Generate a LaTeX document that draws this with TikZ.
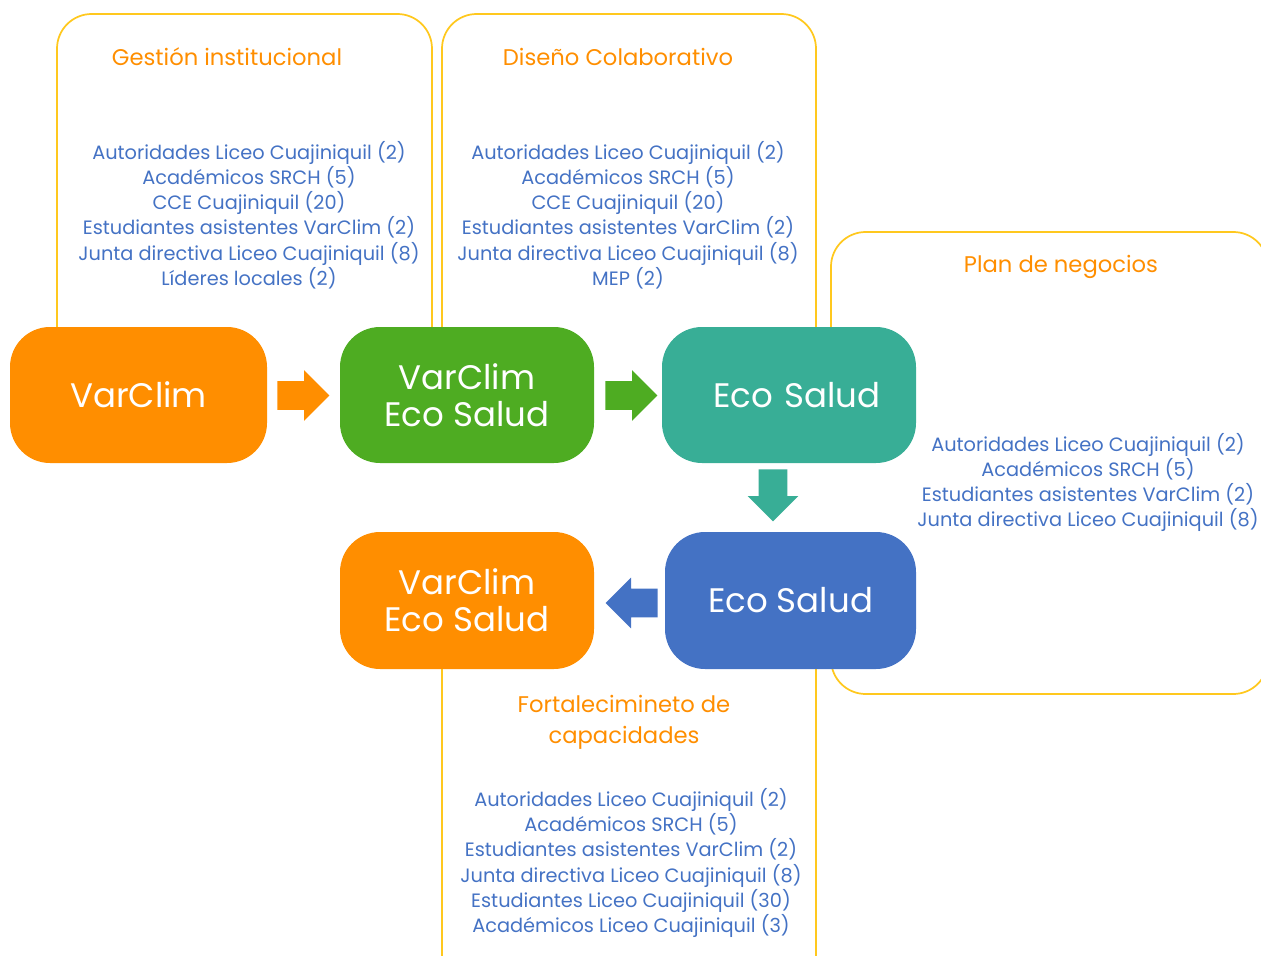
\documentclass[tikz,border=0pt]{standalone}
\usepackage{fontspec}
\setmainfont{Poppins}
\usetikzlibrary{shapes.arrows}
\definecolor{naranja}{HTML}{FF8E00}
\definecolor{verde}{HTML}{4EAC22}
\definecolor{turquesa}{HTML}{38AE96}
\definecolor{azul}{HTML}{4472C4}
\definecolor{dorado}{HTML}{FFC81E}
\tikzset{
  marco/.style={draw=dorado, line width=1.3pt, rounded corners=26pt},
  caja/.style={rounded corners=30pt, minimum width=190.5pt, minimum height=102pt,
    inner sep=0pt, text=white, align=center, font=\fontsize{25.5}{27.75}\selectfont},
  titulo/.style={text=naranja, align=center, font=\fontsize{17}{23.25}\selectfont},
  lista/.style={text=azul, align=center, font=\fontsize{14.5}{18.9}\selectfont},
  flecha/.style={single arrow, single arrow head extend=8.25pt, minimum height=39pt,
    minimum width=0pt, inner xsep=0pt, inner ysep=10.5pt, anchor=tail}
}
\begin{document}
\begin{tikzpicture}[x=0.75pt,y=-0.75pt]
\useasboundingbox (0,0) rectangle (1261,956);
\clip (0,0) rectangle (1261,956);
% marcos
\draw[marco] (57,340) -- (57,14) -- (432,14) -- (432,340);
\draw[marco] (442,340) -- (442,14) -- (816,14) -- (816,340);
\draw[marco] (831,340) -- (831,232) -- (1268,232) -- (1268,694) -- (831,694) -- (831,650);
\draw[marco] (442,650) -- (442,1010) -- (816,1010) -- (816,650);
% textos de los marcos
\node[titulo] (T1) at (227,57) {Gestión institucional};
\node[lista] (L1) at (249,215) {Autoridades Liceo Cuajiniquil (2)\\Académicos SRCH (5)\\CCE Cuajiniquil (20)\\Estudiantes asistentes VarClim (2)\\Junta directiva Liceo Cuajiniquil (8)\\Líderes locales (2)};
\node[titulo] (T2) at (618,57) {Diseño Colaborativo};
\node[lista] (L2) at (628,215) {Autoridades Liceo Cuajiniquil (2)\\Académicos SRCH (5)\\CCE Cuajiniquil (20)\\Estudiantes asistentes VarClim (2)\\Junta directiva Liceo Cuajiniquil (8)\\MEP (2)};
\node[titulo] (T3) at (1061,267) {Plan de negocios};
\node[lista] (L3) at (1088,482.5) {Autoridades Liceo Cuajiniquil (2)\\Académicos SRCH (5)\\Estudiantes asistentes VarClim (2)\\Junta directiva Liceo Cuajiniquil (8)};
\node[titulo] (T4) at (624,722.5) {Fortalecimineto de\\capacidades};
\node[lista] (L4) at (631,863) {Autoridades Liceo Cuajiniquil (2)\\Académicos SRCH (5)\\Estudiantes asistentes VarClim (2)\\Junta directiva Liceo Cuajiniquil (8)\\Estudiantes Liceo Cuajiniquil (30)\\Académicos Liceo Cuajiniquil (3)};
% cajas
\node[caja, fill=naranja, minimum width=192.75pt] (VC) at (138.5,395) {VarClim};
\node[caja, fill=verde] (VE) at (467,395) {VarClim\\Eco Salud};
\node[caja, fill=turquesa, text width=190.5pt] (ES1) at (789,395) {\hspace*{12pt}Eco Salud};
\node[caja, fill=azul, minimum width=188.25pt, minimum height=102.75pt] (ES2) at (790.5,600.5) {Eco Salud};
\node[caja, fill=naranja, minimum height=102.75pt] (VE2) at (467,600.5) {VarClim\\Eco Salud};
% flechas
\node[flecha, fill=naranja] (F1) at (277,395.5) {};
\node[flecha, fill=verde] (F2) at (605,395.5) {};
\node[flecha, fill=turquesa, shape border rotate=270, inner xsep=10.5pt, inner ysep=0pt] (F3) at (773,469) {};
\node[flecha, fill=azul, shape border rotate=180] (F4) at (658,603) {};
\end{tikzpicture}
\end{document}
